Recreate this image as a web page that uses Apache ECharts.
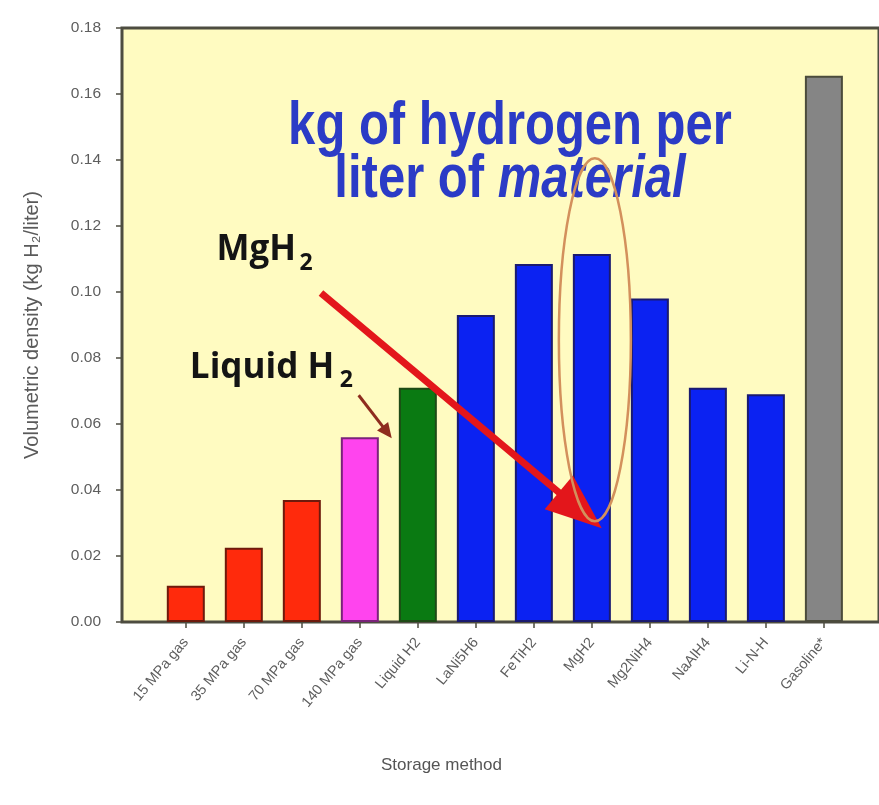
<!DOCTYPE html>
<html>
<head>
<meta charset="utf-8">
<script src="https://cdn.jsdelivr.net/npm/echarts@6/dist/echarts.min.js"></script>
<style>
  html, body { margin: 0; padding: 0; background: #ffffff; }
  #chart { width: 879px; height: 805px; }
</style>
</head>
<body>
<div id="chart"></div>
<script>
// Storage methods and their volumetric hydrogen density (kg H2 per liter)
const categories = ['15 MPa gas', '35 MPa gas', '70 MPa gas', '140 MPa gas', 'Liquid H2',
  'LaNi5H6', 'FeTiH2', 'MgH2', 'Mg2NiH4', 'NaAlH4', 'Li-N-H', 'Gasoline*'];
const values = [0.011, 0.0225, 0.037, 0.056, 0.071, 0.093, 0.1085, 0.1115, 0.098, 0.071, 0.069, 0.1655];
const yTicks = [0, 0.02, 0.04, 0.06, 0.08, 0.10, 0.12, 0.14, 0.16, 0.18];

// Bar fill / outline per storage class
const fills = ['#ff2a0c', '#ff2a0c', '#ff2a0c', '#ff44ee', '#0a7a12',
  '#0b22f2', '#0b22f2', '#0b22f2', '#0b22f2', '#0b22f2', '#0b22f2', '#858585'];
const outlines = ['#6e1a0c', '#6e1a0c', '#6e1a0c', '#7a237a', '#1e4a16',
  '#1a1a70', '#1a1a70', '#1a1a70', '#1a1a70', '#1a1a70', '#1a1a70', '#4b4b3c'];

const axisColor = '#4d4c40';
const labelColor = '#5e5e5e';

const chart = echarts.init(document.getElementById('chart'), null, { renderer: 'canvas' });

const tickIdx = categories.map((_, i) => i);

chart.setOption({
  animation: false,
  backgroundColor: '#ffffff',
  grid: {
    left: 122, top: 28, right: -4, bottom: 183,
    show: true, backgroundColor: '#fffbc1',
    borderColor: axisColor, borderWidth: 3
  },
  xAxis: {
    type: 'value',
    min: -1.1, max: 11.95,
    splitLine: { show: false },
    axisLine: { show: true, onZero: false, lineStyle: { color: axisColor, width: 2 } },
    axisTick: { show: true, customValues: tickIdx, length: 6, lineStyle: { color: axisColor, width: 1.5 } },
    axisLabel: {
      customValues: tickIdx,
      formatter: v => categories[Math.round(v)],
      rotate: 50, margin: 18,
      color: labelColor, fontSize: 14.5, fontFamily: 'Liberation Sans'
    },
    name: 'Storage method',
    nameLocation: 'middle',
    nameGap: 135,
    nameTextStyle: { color: '#555555', fontSize: 17, fontFamily: 'Liberation Sans', padding: [0, 118, 0, 0] }
  },
  yAxis: {
    type: 'value',
    min: 0, max: 0.18, interval: 0.02,
    splitLine: { show: false },
    axisLine: { show: true, onZero: false, lineStyle: { color: axisColor, width: 2 } },
    axisTick: { show: true, length: 6, lineStyle: { color: axisColor, width: 1.5 } },
    axisLabel: {
      formatter: v => {
        const t = yTicks.find(k => Math.abs(k - v) < 1e-9);
        return (t === undefined ? v : t).toFixed(2);
      },
      margin: 21, color: labelColor, fontSize: 15.5, fontFamily: 'Liberation Sans'
    },
    name: 'Volumetric density (kg H₂/liter)',
    nameLocation: 'middle',
    nameRotate: 90,
    nameGap: 80,
    nameTextStyle: { color: '#5a5a5a', fontSize: 20, fontFamily: 'Liberation Sans' }
  },
  series: [{
    type: 'bar',
    barWidth: 38,
    data: values.map((v, i) => ({
      value: [i, v],
      itemStyle: { color: fills[i], borderColor: outlines[i], borderWidth: 2 }
    }))
  }]
});

// Annotation layer, anchored to data coordinates
function toPx(x, y) {
  return chart.convertToPixel({ xAxisIndex: 0, yAxisIndex: 0 }, [x, y]);
}

function arrow(p0, p1, width, headLen, headHalf, color) {
  const dx = p1[0] - p0[0], dy = p1[1] - p0[1];
  const len = Math.hypot(dx, dy);
  const ux = dx / len, uy = dy / len;
  const bx = p1[0] - ux * headLen, by = p1[1] - uy * headLen;
  return [
    {
      type: 'line', z: 50,
      shape: { x1: p0[0], y1: p0[1], x2: bx + ux * 2, y2: by + uy * 2 },
      style: { stroke: color, lineWidth: width, lineCap: 'butt' }
    },
    {
      type: 'polygon', z: 50,
      shape: { points: [[p1[0], p1[1]], [bx - uy * headHalf, by + ux * headHalf], [bx + uy * headHalf, by - ux * headHalf]] },
      style: { fill: color }
    }
  ];
}

const titleColor = '#2b3bc6';
const noteFont = 'bold 35px "Open Sans"';
const subFont = 'bold 23px "Open Sans"';

const ellC = toPx(7, 0.0855);
const ellTop = toPx(7, 0.1405);

const redFrom = toPx(2.33, 0.0997);
const redTo = toPx(7.17, 0.0284);
const brownFrom = toPx(2.98, 0.0687);
const brownTo = toPx(3.55, 0.0557);

const mgPos = toPx(0.53, 0.1179);
const liqPos = toPx(0.07, 0.0824);

const graphics = [
  {
    type: 'text', x: 510, y: 127, scaleY: 1.25, z: 40,
    style: { text: 'kg of hydrogen per', fill: titleColor, font: 'bold 49px "Liberation Sans"', align: 'center', verticalAlign: 'middle' }
  },
  {
    type: 'text', x: 510, y: 180, scaleY: 1.25, z: 40,
    style: {
      text: '{n|liter of }{i|material}', align: 'center', verticalAlign: 'middle',
      rich: {
        n: { fill: titleColor, font: 'bold 49px "Liberation Sans"' },
        i: { fill: titleColor, font: 'italic bold 49px "Liberation Sans"' }
      }
    }
  },
  {
    type: 'text', x: mgPos[0], y: mgPos[1], z: 40,
    style: { text: 'MgH', fill: '#141414', font: noteFont, align: 'left', verticalAlign: 'top' }
  },
  {
    type: 'text', x: mgPos[0] + 83, y: mgPos[1] + 19, z: 40,
    style: { text: '2', fill: '#141414', font: subFont, align: 'left', verticalAlign: 'top' }
  },
  {
    type: 'text', x: liqPos[0], y: liqPos[1], z: 40,
    style: { text: 'Liquid H', fill: '#141414', font: noteFont, align: 'left', verticalAlign: 'top' }
  },
  {
    type: 'text', x: liqPos[0] + 150, y: liqPos[1] + 19, z: 40,
    style: { text: '2', fill: '#141414', font: subFont, align: 'left', verticalAlign: 'top' }
  },
  {
    type: 'ellipse', z: 60,
    shape: { cx: ellC[0] + 3, cy: ellC[1], rx: 36, ry: ellC[1] - ellTop[1] },
    style: { fill: 'none', stroke: '#d3905c', lineWidth: 2.5 }
  }
].concat(
  arrow(redFrom, redTo, 7, 56, 22, '#e3161b'),
  arrow(brownFrom, brownTo, 3, 15, 7, '#8e2c1e')
);

chart.setOption({ graphic: graphics });
</script>
</body>
</html>
